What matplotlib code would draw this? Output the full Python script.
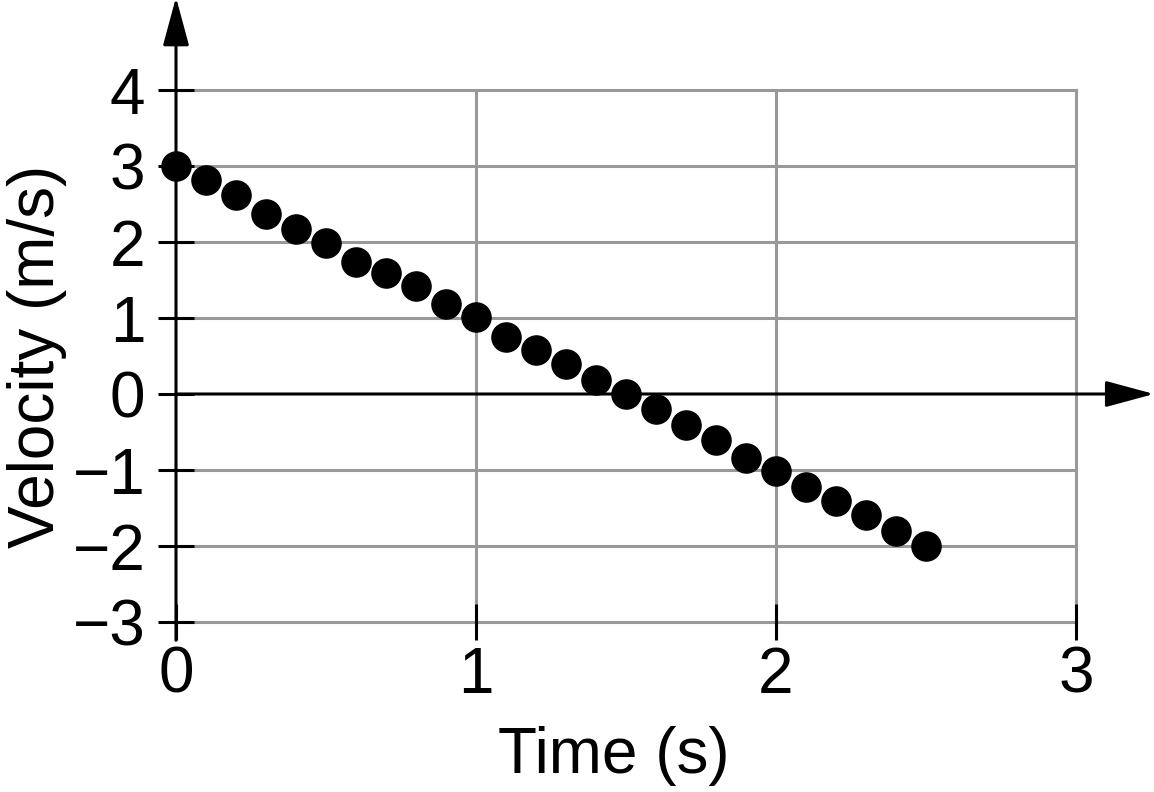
import numpy as np
import matplotlib
matplotlib.use('Agg')
import matplotlib.pyplot as plt

plt.rcParams['font.family'] = ['Liberation Sans', 'DejaVu Sans']
plt.rcParams['axes.unicode_minus'] = True

# data
time_s = [0.0, 0.1, 0.2, 0.3, 0.4, 0.5, 0.6, 0.7, 0.8, 0.9, 1.0, 1.1, 1.2,
          1.3, 1.4, 1.5, 1.6, 1.7, 1.8, 1.9, 2.0, 2.1, 2.2, 2.3, 2.4, 2.5]
velocity = [3.0, 2.82, 2.62, 2.37, 2.17, 1.99, 1.74, 1.59, 1.42, 1.18, 1.01,
            0.75, 0.58, 0.39, 0.18, 0.0, -0.2, -0.41, -0.61, -0.84, -1.01,
            -1.22, -1.41, -1.59, -1.80, -2.0]
x_ticks = [0, 1, 2, 3]
y_ticks = [-3, -2, -1, 0, 1, 2, 3, 4]

fig = plt.figure(figsize=(11.54, 7.92), dpi=100)
ax = fig.add_axes([176/1154, 1-622/792, 900/1154, 532/792])
ax.set_xlim(0, 3)
ax.set_ylim(-3, 4)
for s in ax.spines.values():
    s.set_visible(False)

# grid
for xv in x_ticks[1:]:
    ax.plot([xv, xv], [-3, 4], color='#999999', lw=2.2, zorder=1, clip_on=False)
for yv in y_ticks:
    if yv != 0:
        ax.plot([0, 3], [yv, yv], color='#999999', lw=2.2, zorder=1, clip_on=False)

ax.set_xticks(x_ticks)
ax.set_yticks(y_ticks)
ax.set_yticklabels([str(v).replace('-', '\u2212') for v in y_ticks])
ax.tick_params(axis='both', direction='inout', length=26, width=2.2,
               labelsize=46, color='black')
ax.tick_params(axis='y', pad=9)
ax.tick_params(axis='x', pad=4)

# axes with arrows
arr = dict(arrowstyle='-|>,head_length=1.0,head_width=0.27', mutation_scale=30,
           lw=2.2, color='black', shrinkA=0, shrinkB=0)
ax.annotate('', xy=(0, 5.22), xytext=(0, -3.24), arrowprops=arr,
            annotation_clip=False, zorder=3)
ax.annotate('', xy=(3.26, 0), xytext=(0, 0), arrowprops=arr,
            annotation_clip=False, zorder=3)

ax.plot(time_s, velocity, 'o', color='black', markersize=21, zorder=4,
        clip_on=False)

ax.set_xlabel('Time (s)', fontsize=46)
ax.xaxis.set_label_coords(0.487, -0.195)
ax.set_ylabel('Velocity (m/s)', fontsize=46, labelpad=4)

fig.savefig('out.png', dpi=100)
